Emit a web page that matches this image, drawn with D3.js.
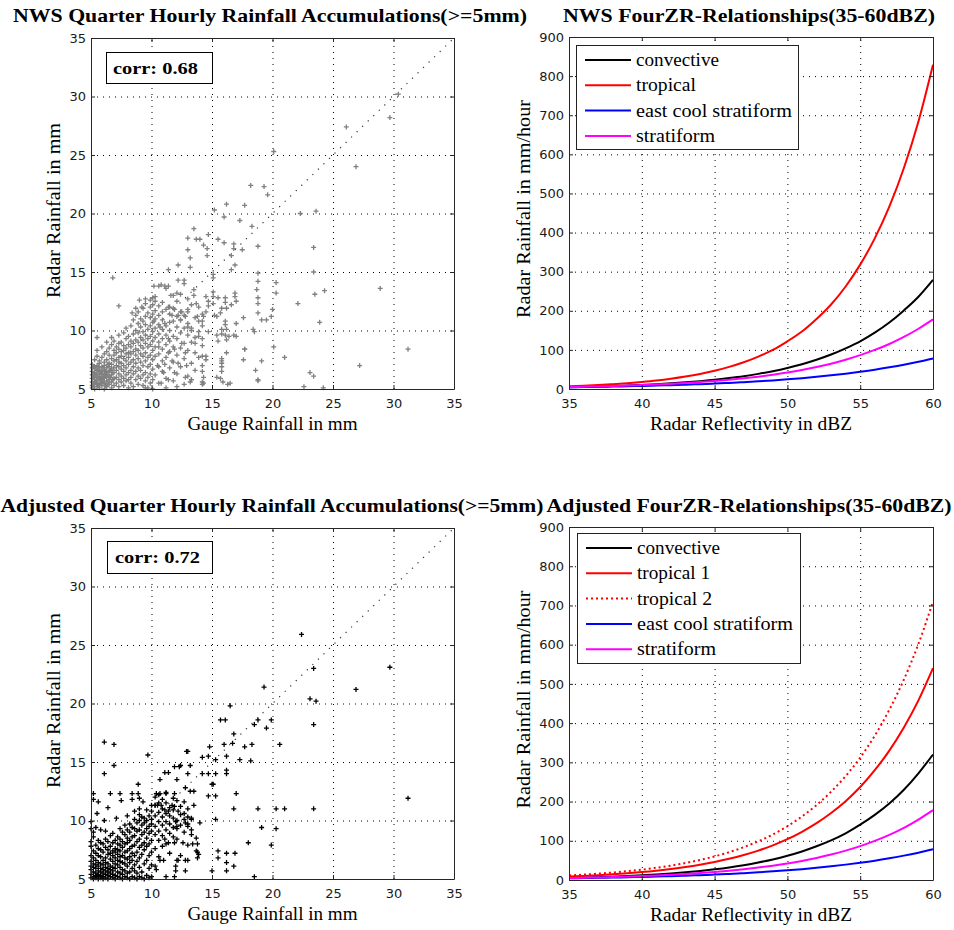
<!DOCTYPE html>
<html><head><meta charset="utf-8">
<script src="https://cdn.jsdelivr.net/npm/d3@7"></script>
<style>body{margin:0;background:#fff}svg{display:block}</style>
</head><body><svg id="c" width="954" height="930"></svg>
<script>
// ---------------- DATA ----------------
const scatterTicks = [5,10,15,20,25,30,35];
const zrXTicks = [35,40,45,50,55,60];
const zrYTicks = [0,100,200,300,400,500,600,700,800,900];
const dbz = [35,36,37,38,39,40,41,42,43,44,45,46,47,48,49,50,51,52,53,54,55,56,57,58,59,60];

const nwsConvective = [4.56,5.38,6.34,7.47,8.81,10.4,12.2,14.4,17.0,20.1,23.6,27.9,32.8,38.7,45.6,53.8,63.4,74.7,88.1,104,122,144,170,201,236,279];
const nwsTropical   = [6.84,8.29,10.0,12.2,14.7,17.9,21.6,26.2,31.8,38.5,46.6,56.5,68.4,82.9,100,122,147,179,216,262,318,385,466,565,684,829];
const nwsEastCool   = [4.40,4.93,5.54,6.21,6.97,7.82,8.77,9.84,11.0,12.4,13.9,15.6,17.5,19.6,22.0,24.7,27.7,31.1,34.9,39.2,44.0,49.3,55.4,62.1,69.7,78.2];
const nwsStratiform = [4.86,5.62,6.49,7.49,8.65,9.99,11.5,13.3,15.4,17.8,20.5,23.7,27.4,31.6,36.5,42.1,48.6,56.2,64.8,74.9,86.5,99.9,115,133,154,178];

const adjConvective = [5.24,6.18,7.28,8.58,10.1,11.9,14.1,16.6,19.5,23.0,27.2,32.0,37.7,44.5,52.4,61.8,72.8,85.9,101,119,141,166,195,230,272,320];
const adjTropical1  = [8.84,10.4,12.3,14.5,17.1,20.1,23.7,28.0,33.0,38.9,45.8,54.0,63.7,75.0,88.4,104,123,145,171,201,237,280,330,389,458,540];
const adjTropical2  = [11.6,13.7,16.2,19.0,22.4,26.5,31.2,36.8,43.4,51.1,60.2,71.0,83.7,98.6,116,137,162,191,225,265,312,368,434,511,602,710];
const adjEastCool   = [4.40,4.93,5.54,6.21,6.97,7.82,8.77,9.84,11.0,12.4,13.9,15.6,17.5,19.6,22.0,24.7,27.7,31.1,34.9,39.2,44.0,49.3,55.4,62.1,69.7,78.2];
const adjStratiform = [4.86,5.62,6.49,7.49,8.65,9.99,11.5,13.3,15.4,17.8,20.5,23.7,27.4,31.6,36.5,42.1,48.6,56.2,64.8,74.9,86.5,99.9,115,133,154,178];

const nwsCorr = "corr: 0.68";
const adjCorr = "corr: 0.72";

// NWS scatter: dense columns [gauge, [radar values]]
const nwsColumns = [
 [5.1,[5.1,5.3,5.6,5.9,6.2,6.5,6.8,7.1]],
 [5.2,[5.2,5.5,6.0,6.3,6.9]],
 [5.3,[5.0,5.4,5.8,6.0,6.4,6.9,7.5]],
 [5.4,[5.6,6.2,6.7]],
 [5.5,[5.2,5.5,5.7,6.1,6.3,6.6,7.0,7.8,8.3,9.4]],
 [5.6,[5.3,5.9,6.9]],
 [5.7,[5.1,5.4,5.9,6.2,6.5,6.7,7.2,7.4]],
 [5.8,[5.5,5.9,6.4]],
 [5.9,[5.3,5.6,5.8,6.0,6.3,6.5,6.9,7.7,8.6]],
 [6.0,[5.6,6.1,6.8]],
 [6.1,[5.0,5.5,5.9,6.3,6.6,7.0,7.3,8.0]],
 [6.2,[5.3,6.1,6.5]],
 [6.3,[5.2,5.7,6.1,6.4,6.8,7.5,8.2,9.0]],
 [6.4,[5.5,6.2,7.1]],
 [6.5,[5.4,5.8,6.0,6.5,6.9,7.2,7.9,8.5]],
 [6.6,[6.0,6.6]],
 [6.7,[5.1,5.6,6.2,6.7,7.1,7.6,8.8,9.4]],
 [6.8,[5.8,6.4]],
 [6.9,[5.3,5.9,6.4,6.8,7.4,7.9,8.3,9.1]],
 [7.1,[5.5,6.0,6.6,7.0,7.5,8.1,8.6]],
 [7.3,[5.2,5.8,6.3,6.9,7.3,7.7,8.4,8.9,9.6]],
 [7.5,[5.6,6.1,6.7,7.2,7.8,8.2,9.0]],
 [7.7,[5.3,5.9,6.5,7.0,7.6,8.3,8.7,9.8]],
 [7.9,[5.7,6.2,6.8,7.4,8.0,8.5,9.3,10.2]],
 [8.1,[5.1,5.8,6.4,7.1,7.7,8.1,8.8,9.5]],
 [8.3,[5.5,6.0,6.6,7.3,8.0,8.6,9.1,10.4]],
 [8.5,[5.2,6.3,6.9,7.5,8.2,8.9,9.7,10.9]],
 [8.7,[5.8,6.5,7.2,7.9,8.4,9.2,10.0,11.3]],
 [8.9,[5.4,6.1,6.8,7.6,8.3,9.0,9.8,10.6,11.6]],
 [9.1,[5.9,6.6,7.3,8.0,8.7,9.4,10.3,11.0]],
 [9.3,[5.3,6.2,7.0,7.8,8.5,9.2,9.9,10.8,11.9]],
 [9.5,[5.1,5.7,6.4,7.4,8.1,8.9,9.6,10.5,11.2,12.3]],
 [9.7,[5.1,6.0,6.9,7.7,8.6,9.3,10.1,11.5]],
 [9.9,[5.5,6.3,7.1,7.9,8.8,9.5,10.4,11.1,12.0,12.6]],
 [10.1,[5.0,5.8,6.7,7.5,8.3,9.1,9.9,10.7,11.4,12.2,12.8]],
 [10.3,[6.2,7.8,8.6,9.4,10.2,11.0,11.7,12.5]],
 [10.6,[5.5,6.9,8.0,9.0,9.7,10.5,11.3,12.1]],
 [10.9,[6.5,7.4,8.4,9.3,10.1,10.9,11.6,12.4]],
 [11.2,[5.1,5.9,7.7,8.8,9.6,10.4,11.8,13.6]],
 [11.5,[6.8,8.2,9.1,10.0,10.7,11.4,12.0]],
 [11.8,[5.7,7.3,8.6,9.5,10.8,11.9,13.0]],
 [12.1,[5.2,6.3,7.9,9.3,10.3,11.2,12.5]],
 [12.4,[6.9,8.5,9.8,10.9,11.6,13.1]],
 [12.7,[5.4,7.6,8.9,10.2,11.3]],
 [13.0,[6.1,8.3,9.6,10.6,11.8,12.7]],
 [13.3,[5.8,7.2,9.0,10.0,12.2]],
 [13.6,[6.6,8.1,9.4,11.1]],
 [13.9,[7.7,9.9,10.8,12.0]],
 [14.2,[5.6,7.0,8.7,10.4,11.4]]
];
// NWS scatter: individual points [gauge, radar]
const nwsPoints = [
 [30.4,30.2],[29.7,28.2],[26.1,27.4],[26.9,24.0],[20.1,25.3],[18.2,22.4],[19.3,22.3],[19.6,21.6],[16.2,20.8],[17.7,20.7],
 [15.2,20.3],[16.0,19.7],[17.3,19.4],[18.3,18.9],[13.5,18.7],[14.7,18.2],[13.0,17.9],[13.7,17.8],[14.0,17.8],[15.5,17.8],
 [14.3,17.3],[16.0,17.5],[16.8,17.4],[16.8,17.0],[17.5,16.9],[18.8,17.2],[14.6,17.0],[14.6,16.4],[13.0,16.9],[13.2,16.2],
 [16.6,16.4],[11.4,15.2],[12.2,15.6],[13.2,15.4],[15.1,14.8],[15.1,14.5],[16.9,15.6],[16.6,15.2],[18.8,14.9],[18.8,14.2],
 [12.2,14.3],[12.7,14.3],[12.7,14.0],[11.1,13.8],[11.4,13.8],[13.5,13.5],[13.5,13.0],[6.8,14.5],[10.6,13.8],[10.8,13.9],
 [10.2,13.8],[11.6,13.0],[12.1,13.2],[15.1,13.3],[15.1,12.9],[16.1,12.8],[16.1,12.4],[16.9,12.9],[15.8,11.9],[16.6,12.2],
 [14.5,12.9],[13.7,12.3],[14.5,11.6],[15.2,11.3],[15.7,11.5],[16.1,10.8],[16.1,10.5],[17.6,11.1],[18.8,12.8],[18.8,12.3],
 [18.8,11.5],[19.1,10.9],[19.5,10.9],[7.3,12.1],[8.4,11.5],[8.7,11.9],[9.0,12.6],[9.5,12.7],[9.2,12.0],[10.3,12.9],
 [11.4,12.0],[11.9,11.8],[11.7,11.3],[12.2,11.3],[12.5,11.6],[13.0,11.6],[12.8,11.2],[12.4,10.9],[13.8,11.2],[13.0,10.3],
 [13.3,10.2],[13.9,9.5],[13.6,8.9],[14.2,9.3],[14.7,9.9],[15.4,9.6],[15.5,9.1],[16.1,9.6],[16.4,9.5],[16.8,9.6],
 [17.0,9.5],[17.7,8.4],[18.5,9.9],[19.1,7.4],[18.6,6.6],[18.8,5.8],[17.6,7.5],[15.8,7.6],[15.8,7.2],[15.8,6.9],
 [15.8,6.5],[14.5,7.8],[14.5,7.5],[14.3,6.0],[14.3,5.5],[15.4,6.0],[15.9,5.6],[16.3,5.4],[13.2,5.6],[12.8,6.0],
 [12.8,8.1],[12.9,7.0],[12.2,7.2],[12.5,8.9],[11.9,8.4],[11.4,9.3],[11.4,8.1],[11.7,7.4],[11.1,7.1],[11.0,6.4],
 [11.9,6.4],[11.4,5.8],[10.8,5.5],[10.5,7.0],[10.6,8.6],[10.2,10.8],[10.7,10.3],[11.1,10.6],
 [23.4,17.1],[23.4,15.0],[23.5,13.1],[24.3,13.4],[23.6,20.2],[22.3,20.0],[22.1,12.3],[28.9,13.6],[31.2,8.4],[27.2,7.0],
 [23.9,10.7],[21.0,7.7],[20.1,8.6],[23.1,6.4],[23.4,6.1],[22.6,5.2],[24.2,5.1],[20.0,11.8],[20.3,14.1],[20.3,13.2],
 [18.4,10.1],[16.9,13.2],[17.0,12.5],[16.2,11.9],[16.2,10.1],[17.0,10.6],[15.5,12.8],[15.1,12.3],[14.7,12.5],[14.7,12.1],
 [15.4,11.2],[14.3,11.2],[14.2,10.8],[15.8,10.1],[15.8,9.7],[16.2,8.1],[16.2,9.2],[15.8,7.4],[15.7,5.9],[16.5,5.5],
 [14.2,7.8],[14.2,6.5],[14.2,5.4],[13.3,5.8],[18.8,5.7],[17.7,8.4],[18.7,13.5],[19.9,11.2]
];

// Adjusted scatter: dense columns
const adjColumns = [
 [5.0,[5.1,5.4,5.8,6.1,6.5,7.0,7.8,8.2,9.3,9.9]],
 [5.2,[5.0,5.2,5.6,6.0,6.3,6.8,7.4,8.6,9.0]],
 [5.4,[5.1,5.3,5.5,5.9,6.2,6.6,7.2,7.9,9.4]],
 [5.6,[5.0,5.2,5.4,5.7,6.1,6.4,7.0,7.6,8.3]],
 [5.8,[5.1,5.3,5.6,5.9,6.3,6.9,7.5,8.1,9.2]],
 [6.0,[5.0,5.2,5.5,5.8,6.2,6.6,7.3,8.0]],
 [6.2,[5.1,5.4,5.7,6.0,6.4,6.8,7.7,8.4,9.1]],
 [6.4,[5.0,5.3,5.6,5.9,6.3,7.1,7.5,8.2]],
 [6.6,[5.2,5.5,5.8,6.1,6.7,7.2,7.8,8.7]],
 [6.8,[5.1,5.4,5.7,6.0,6.5,7.0,7.4,8.1,8.9]],
 [7.0,[5.0,5.3,5.9,6.3,6.8,7.3,7.6,8.3]],
 [7.2,[5.2,5.6,6.2,6.6,7.1,7.5,8.0,8.6]],
 [7.4,[5.1,5.5,6.0,6.5,6.9,7.4,7.9,8.4,9.3]],
 [7.6,[5.0,5.4,5.8,6.4,7.0,7.7,8.2,9.0]],
 [7.8,[5.2,5.7,6.3,6.8,7.3,8.0,8.8,9.6]],
 [8.0,[5.1,5.5,6.1,6.7,7.4,8.1,8.5,9.2]],
 [8.2,[5.0,5.6,6.4,6.9,7.6,8.3,9.0,9.7]],
 [8.4,[5.2,5.9,6.6,7.2,7.8,8.6,9.4]],
 [8.6,[5.1,5.7,6.2,7.0,7.9,8.7,9.3,10.1]],
 [8.8,[5.0,5.5,6.5,7.3,8.2,9.1,9.8]],
 [9.0,[5.2,6.0,6.8,7.7,8.4,9.2,10.0,10.5]],
 [9.2,[5.1,5.6,7.1,7.9,8.8,9.6,10.3]],
 [9.4,[5.0,6.3,7.5,8.1,9.0,9.8,10.2]],
 [9.6,[5.3,6.6,7.8,8.5,9.3,10.0]],
 [9.8,[5.1,5.9,7.0,8.0,8.9,9.5,10.4]],
 [10.0,[5.2,6.2,7.3,8.3,9.1,9.7,10.1,10.8,11.3]],
 [10.3,[7.6,8.8,9.5,10.4,11.3,12.0]],
 [10.6,[6.9,8.3,9.1,9.9,10.7,11.5,12.2]],
 [10.9,[7.8,8.7,9.6,10.3,11.0,11.8]],
 [11.2,[8.0,9.2,9.9,10.6,11.5,12.4]],
 [11.5,[7.2,8.9,9.7,10.4,11.1]],
 [11.8,[8.6,9.4,10.9,11.9]],
 [12.1,[8.4,9.3,10.0,11.7]],
 [12.4,[7.0,9.6,10.5,11.2]],
 [12.7,[9.0,10.1,11.6]],
 [13.0,[7.9,9.7,11.0]],
 [13.3,[8.8,10.2]]
];
const adjPoints = [
 [22.4,25.9],[29.7,23.1],[26.9,21.2],[23.4,23.0],[23.1,20.4],[23.6,20.2],[23.4,18.2],[31.2,11.9],[23.4,11.0],[21.0,11.0],
 [20.3,11.0],[20.3,9.3],[19.9,7.9],[19.1,9.4],[18.8,11.0],[18.0,8.1],[18.5,5.2],[19.3,21.4],[19.9,18.6],[19.5,17.9],
 [18.8,18.6],[18.5,18.2],[20.6,16.5],[18.3,16.5],[17.7,16.3],[18.2,15.1],[17.3,15.2],[16.5,19.8],[15.7,18.6],[16.1,18.6],
 [16.8,17.4],[16.7,16.6],[16.0,16.5],[16.2,15.5],[16.2,14.3],[16.2,14.0],[17.0,12.3],[16.8,11.0],[15.3,15.2],[14.8,16.3],
 [14.2,15.4],[14.7,15.5],[12.9,15.9],[12.4,14.7],[13.2,14.7],[14.2,14.0],[14.7,14.0],[15.3,14.0],[15.1,13.1],[15.0,13.1],
 [14.7,12.1],[15.3,12.1],[15.3,10.1],[15.5,7.4],[15.5,6.8],[16.2,7.2],[16.9,7.2],[16.2,6.4],[16.2,5.7],[16.8,6.1],
 [15.0,5.7],[13.8,7.3],[13.8,6.8],[14.0,9.8],[13.3,10.1],[6.1,16.7],[6.9,16.5],[6.9,14.7],[6.1,14.0],[9.7,15.6],
 [13.0,15.9],[13.0,14.0],[11.9,14.6],[12.3,14.6],[11.1,14.1],[11.4,14.1],[12.1,13.5],[10.7,13.5],[12.8,12.8],[13.2,12.5],
 [13.5,12.5],[11.9,12.3],[10.4,12.3],[10.7,12.3],[11.2,12.3],[10.3,11.3],[10.5,11.3],[10.8,11.3],[11.7,11.3],[11.9,11.2],
 [12.2,10.8],[12.7,10.6],[13.0,10.3],[13.5,11.3],[11.1,10.9],[11.4,10.8],[11.8,10.2],[12.0,9.9],[12.1,9.5],[12.8,9.8],
 [13.0,9.5],[13.3,9.2],[13.7,8.5],[13.8,8.0],[13.4,8.0],[13.7,7.4],[13.9,7.1],[13.0,6.6],[12.8,6.6],[12.1,6.6],
 [12.2,6.6],[11.0,6.6],[10.7,6.6],[10.3,6.1],[10.4,5.8],[11.4,8.1],[11.9,8.1],[12.6,8.1],[11.1,8.4],[12.0,5.7],
 [12.0,6.1],[12.8,5.7],[11.2,5.2],[11.9,5.2],[6.4,11.1],[5.2,11.8],[5.6,11.6],[5.2,12.3],[6.6,12.3],[7.4,12.3],
 [8.4,12.3],[8.9,12.3],[7.5,11.7],[8.4,11.8],[9.0,11.9],[9.3,11.6],[8.9,13.1],[9.0,11.0],[8.0,10.4],[7.1,10.2],
 [6.1,10.0],[5.5,10.6],[8.6,10.8],[9.6,10.9]
];

// ---------------- LAYOUT ----------------
const SERIF = "'Liberation Serif','Times New Roman',serif";
const SANS = "'DejaVu Sans','Liberation Sans',sans-serif";
const legendLen = {"convective":83,"tropical":60,"tropical 1":73,"tropical 2":75,"east cool stratiform":156,"stratiform":79};

const nwsSeries = [
 {name:"convective", v:nwsConvective, color:"#000000"},
 {name:"tropical", v:nwsTropical, color:"#ff0000"},
 {name:"east cool stratiform", v:nwsEastCool, color:"#0000ff"},
 {name:"stratiform", v:nwsStratiform, color:"#ff00ff"}
];
const adjSeries = [
 {name:"convective", v:adjConvective, color:"#000000"},
 {name:"tropical 1", v:adjTropical1, color:"#ff0000"},
 {name:"tropical 2", v:adjTropical2, color:"#ff0000", dash:"2,3"},
 {name:"east cool stratiform", v:adjEastCool, color:"#0000ff"},
 {name:"stratiform", v:adjStratiform, color:"#ff00ff"}
];

const flat = cols => cols.flatMap(([gx, ys]) => ys.map(r => [gx, r]));

const panels = [
 {kind:"scatter", x0:91, x1:454, y0:38, y1:389, title:"NWS Quarter Hourly Rainfall Accumulations(>=5mm)",
  tx:270, ty:22, tw:514, pts:flat(nwsColumns).concat(nwsPoints), color:"#808080", corr:nwsCorr, box:[106,52,106,31], corrX:113, corrY:74},
 {kind:"zr", x0:569, x1:933, y0:37, y1:389, title:"NWS FourZR-Relationships(35-60dBZ)",
  tx:749, ty:22, tw:372, series:nwsSeries, legend:[576,45,222,104]},
 {kind:"scatter", x0:91, x1:454, y0:528, y1:879, title:"Adjusted Quarter Hourly Rainfall Accumulations(>=5mm)",
  tx:272, ty:512, tw:543, pts:flat(adjColumns).concat(adjPoints), color:"#000000", corr:adjCorr, box:[107,541,105,32], corrX:115, corrY:563},
 {kind:"zr", x0:569, x1:933, y0:527, y1:880, title:"Adjusted FourZR-Relationships(35-60dBZ)",
  tx:749, ty:512, tw:405, series:adjSeries, legend:[577,533,223,130]}
];

const svg = d3.select("#c");
svg.append("rect").attr("width",954).attr("height",930).attr("fill","#fff");

function txt(g, s, x, y, o) {
  const t = g.append("text").attr("x",x).attr("y",y).text(s)
    .attr("font-family", o.family || SERIF).attr("font-size", o.size)
    .attr("text-anchor", o.anchor || "middle").attr("fill","#000");
  if (o.bold) t.attr("font-weight","bold");
  if (o.len) t.attr("textLength", o.len).attr("lengthAdjust","spacingAndGlyphs");
  if (o.rotate) t.attr("transform", `rotate(-90,${x},${y})`);
  return t;
}

function drawPanel(p) {
  const g = svg.append("g");
  const xDom = p.kind === "scatter" ? [5,35] : [35,60];
  const yDom = p.kind === "scatter" ? [5,35] : [0,900];
  const xT = p.kind === "scatter" ? scatterTicks : zrXTicks;
  const yT = p.kind === "scatter" ? scatterTicks : zrYTicks;
  const x = d3.scaleLinear().domain(xDom).range([p.x0, p.x1]);
  const y = d3.scaleLinear().domain(yDom).range([p.y1, p.y0]);
  const W = p.x1 - p.x0, H = p.y1 - p.y0;

  g.append("rect").attr("x",p.x0).attr("y",p.y0).attr("width",W).attr("height",H).attr("fill","#fff");

  // grid
  const gx = g.append("g").attr("transform",`translate(0,${p.y1})`)
    .call(d3.axisBottom(x).tickValues(xT).tickSize(-H).tickSizeOuter(0).tickFormat(""));
  gx.select(".domain").remove();
  gx.selectAll("line").attr("stroke","#000").attr("stroke-width",1).attr("stroke-dasharray","1,5");
  const gy = g.append("g").attr("transform",`translate(${p.x0},0)`)
    .call(d3.axisLeft(y).tickValues(yT).tickSize(-W).tickSizeOuter(0).tickFormat(""));
  gy.select(".domain").remove();
  gy.selectAll("line").attr("stroke","#000").attr("stroke-width",1).attr("stroke-dasharray","1,5");

  if (p.kind === "scatter") {
    g.append("line").attr("x1",x(5)).attr("y1",y(5)).attr("x2",x(35)).attr("y2",y(35))
      .attr("stroke","#333").attr("stroke-width",1.2).attr("stroke-dasharray","1.2,6.5");
    g.append("g").selectAll("path").data(p.pts).join("path")
      .attr("transform", d => `translate(${x(d[0])},${y(d[1])})`)
      .attr("d","M-2.5,0H2.5M0,-2.5V2.5")
      .attr("stroke", p.color).attr("stroke-width",1.3).attr("fill","none");
  } else {
    const line = d3.line().x((d,i) => x(dbz[i])).y(d => y(d)).curve(d3.curveMonotoneX);
    p.series.forEach(s => {
      g.append("path").datum(s.v).attr("d", line).attr("fill","none")
        .attr("stroke", s.color).attr("stroke-width", 2)
        .attr("stroke-dasharray", s.dash || null);
    });
  }

  // axes (box with inward ticks)
  const axB = g.append("g").attr("transform",`translate(0,${p.y1})`)
    .call(d3.axisBottom(x).tickValues(xT).tickSize(-4).tickSizeOuter(0).tickPadding(10).tickFormat(d3.format("d")));
  const axL = g.append("g").attr("transform",`translate(${p.x0},0)`)
    .call(d3.axisLeft(y).tickValues(yT).tickSize(-4).tickSizeOuter(0).tickPadding(5).tickFormat(d3.format("d")));
  const axT = g.append("g").attr("transform",`translate(0,${p.y0})`)
    .call(d3.axisTop(x).tickValues(xT).tickSize(-4).tickSizeOuter(0).tickFormat(""));
  const axR = g.append("g").attr("transform",`translate(${p.x1},0)`)
    .call(d3.axisRight(y).tickValues(yT).tickSize(-4).tickSizeOuter(0).tickFormat(""));
  [axB, axL, axT, axR].forEach(a => {
    a.attr("color","#262626").attr("font-family",SANS).attr("font-size",13);
    a.selectAll("text").attr("fill","#1a1a1a");
  });

  // annotations
  if (p.kind === "scatter") {
    const b = p.box;
    g.append("rect").attr("x",b[0]+0.5).attr("y",b[1]+0.5).attr("width",b[2]).attr("height",b[3])
      .attr("fill","#fff").attr("stroke","#000").attr("stroke-width",1);
    txt(g, p.corr, p.corrX, p.corrY, {size:17, bold:true, anchor:"start", len:85});
    txt(g, "Gauge Rainfall in mm", (p.x0+p.x1)/2, p.y1+41, {size:18, len:170});
    txt(g, "Radar Rainfall in mm", p.x0-31, (p.y0+p.y1)/2 - 3, {size:18, len:175, rotate:true});
  } else {
    const L = p.legend;
    g.append("rect").attr("x",L[0]+0.5).attr("y",L[1]+0.5).attr("width",L[2]).attr("height",L[3])
      .attr("fill","#fff").attr("stroke","#222").attr("stroke-width",1);
    p.series.forEach((s,i) => {
      const cy = L[1] + 15 + i*25.3;
      g.append("line").attr("x1",L[0]+9).attr("x2",L[0]+55).attr("y1",cy).attr("y2",cy)
        .attr("stroke", s.color).attr("stroke-width",2).attr("stroke-dasharray", s.dash || null);
      txt(g, s.name, L[0]+60, cy+6, {size:18, anchor:"start", len:legendLen[s.name]});
    });
    txt(g, "Radar Reflectivity in dBZ", (p.x0+p.x1)/2, p.y1+41, {size:18, len:202});
    txt(g, "Radar Rainfall in mm/hour", p.x0-39, (p.y0+p.y1)/2 - 4, {size:18, len:218, rotate:true});
  }
  txt(svg, p.title, p.tx, p.ty, {size:19, bold:true, len:p.tw});
}

panels.forEach(drawPanel);
</script>
</body></html>
